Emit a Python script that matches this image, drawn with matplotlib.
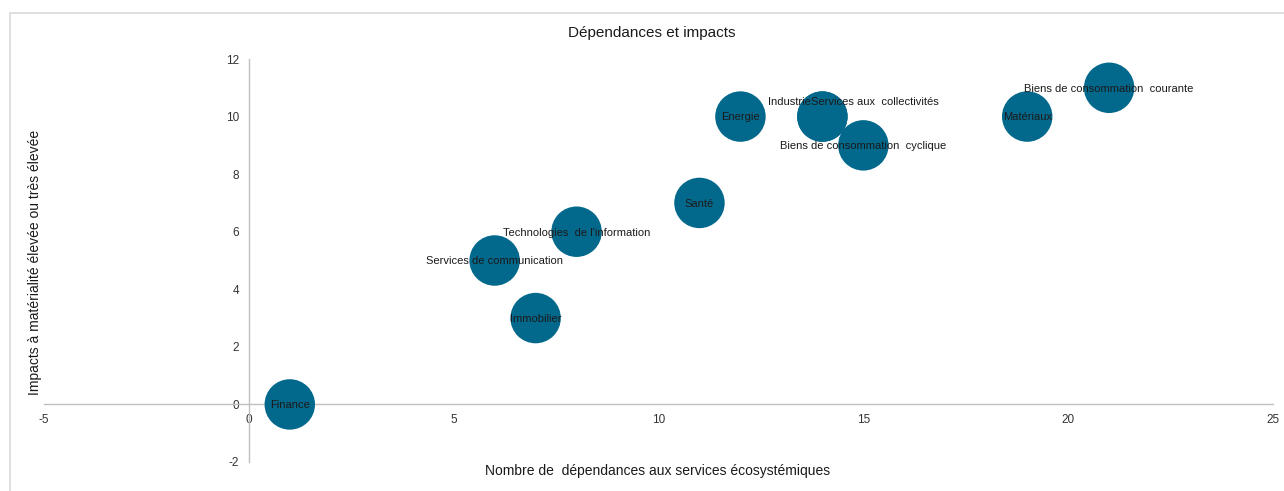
import matplotlib.pyplot as plt
from matplotlib.patches import Rectangle

# données du graphique
secteurs = ["Finance", "Immobilier", "Services de communication",
            "Technologies  de l'information", "Santé", "Energie", "Industrie",
            "Services aux  collectivités", "Biens de consommation  cyclique",
            "Matériaux", "Biens de consommation  courante"]
dependances = [1, 7, 6, 8, 11, 12, 14, 14, 15, 19, 21]
impacts = [0, 3, 5, 6, 7, 10, 10, 10, 9, 10, 11]

couleur = "#03698C"
plt.rcParams['font.family'] = ['Liberation Sans', 'DejaVu Sans']
plt.rcParams['axes.unicode_minus'] = False

fig = plt.figure(figsize=(12.84, 4.91), dpi=100)

# cadre de la zone de graphique
fig.patches.append(Rectangle((10 / 1284, -0.1), 1.2, 1 - 13 / 491 + 0.1,
                             transform=fig.transFigure, fill=False,
                             edgecolor="#D9D9D9", linewidth=1.2))

ax = fig.add_axes([44 / 1284, 29 / 491, 1229 / 1284, 403 / 491])
ax.set_xlim(-5, 25)
ax.set_ylim(-2, 12)
ax.patch.set_alpha(0)

for side in ["top", "right"]:
    ax.spines[side].set_visible(False)
ax.spines["left"].set_position(("data", 0))
ax.spines["bottom"].set_position(("data", 0))
for side in ["left", "bottom"]:
    ax.spines[side].set_color("#BFBFBF")
    ax.spines[side].set_linewidth(1)

ax.set_xticks([-5, 0, 5, 10, 15, 20, 25])
ax.set_yticks([-2, 0, 2, 4, 6, 8, 10, 12])
ax.tick_params(axis="both", length=0, labelsize=8.5, labelcolor="#333333")
ax.tick_params(axis="x", pad=7)
ax.tick_params(axis="y", pad=7)

ax.scatter(dependances, impacts, s=1320, color=couleur, edgecolors="none",
           zorder=3, clip_on=False)

for nom, x, y in zip(secteurs, dependances, impacts):
    if nom == "Industrie":
        ax.text(x - 0.28, y + 0.52, nom, ha="right", va="center", fontsize=8,
                color="#1a1a1a", zorder=4)
    elif nom.startswith("Services aux"):
        ax.text(x - 0.28, y + 0.52, nom, ha="left", va="center", fontsize=8,
                color="#1a1a1a", zorder=4)
    else:
        ax.text(x, y - 0.03, nom, ha="center", va="center", fontsize=8,
                color="#1a1a1a", zorder=4)

fig.text(652 / 1284, 1 - 33 / 491, "Dépendances et impacts", ha="center",
         va="center", fontsize=11, color="#1a1a1a")
fig.text(658 / 1284, 1 - 471 / 491,
         "Nombre de  dépendances aux services écosystémiques",
         ha="center", va="center", fontsize=10, color="#1a1a1a")
fig.text(35 / 1284, 1 - 262 / 491, "Impacts à matérialité élevée ou très élevée",
         ha="center", va="center", rotation=90, fontsize=10, color="#1a1a1a")

plt.savefig("out.png", dpi=100)
plt.close()
